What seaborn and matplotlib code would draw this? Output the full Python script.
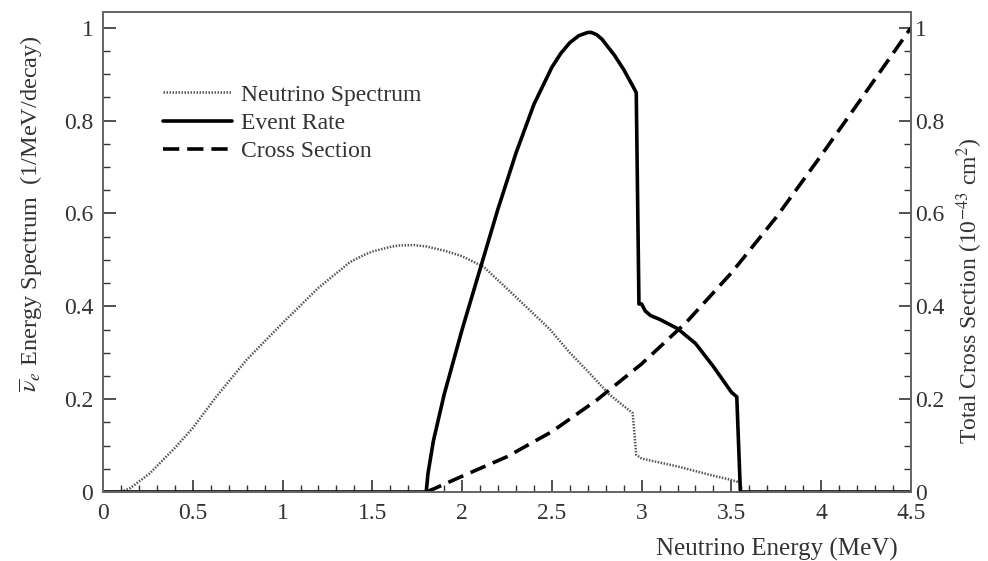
import numpy as np
import pandas as pd
import matplotlib
matplotlib.use("Agg")
import matplotlib.pyplot as plt
from matplotlib.ticker import MultipleLocator, FuncFormatter
import seaborn as sns

# Reactor antineutrino spectrum (1/MeV/decay)
spec_E = [0.0, 0.10, 0.15, 0.26, 0.40, 0.50, 0.63, 0.80, 1.00, 1.20, 1.375, 1.45, 1.50,
          1.60, 1.65, 1.73, 1.80, 1.90, 2.00, 2.12, 2.30, 2.49, 2.60, 2.70, 2.82, 2.95,
          2.97, 3.00, 3.20, 3.40, 3.50, 3.55, 3.56]
spec_val = [0.0, 0.0, 0.008, 0.04, 0.095, 0.138, 0.205, 0.285, 0.364, 0.44, 0.495, 0.51,
            0.518, 0.528, 0.531, 0.532, 0.529, 0.52, 0.508, 0.485, 0.42, 0.35, 0.30, 0.26,
            0.21, 0.17, 0.08, 0.072, 0.055, 0.035, 0.026, 0.02, 0.0]

# Detected event rate (arb. normalised)
rate_E = [0.0, 1.80, 1.81, 1.84, 1.90, 2.00, 2.10, 2.20, 2.30, 2.40, 2.50, 2.55, 2.60,
          2.65, 2.70, 2.72, 2.75, 2.78, 2.80, 2.85, 2.90, 2.95, 2.97, 2.985, 3.00, 3.02,
          3.05, 3.10, 3.20, 3.30, 3.40, 3.50, 3.53, 3.55, 4.50]
rate_val = [0.0, 0.0, 0.04, 0.11, 0.21, 0.35, 0.48, 0.61, 0.73, 0.835, 0.915, 0.945, 0.968,
            0.983, 0.99, 0.99, 0.985, 0.975, 0.965, 0.94, 0.91, 0.875, 0.86, 0.405, 0.405,
            0.39, 0.38, 0.372, 0.352, 0.32, 0.27, 0.215, 0.205, 0.0, 0.0]

# Inverse beta decay total cross section (1e-43 cm^2)
xs_E = [1.80, 1.85, 2.00, 2.25, 2.50, 2.75, 3.00, 3.25, 3.50, 3.75, 4.00, 4.25, 4.50]
xs_val = [0.0, 0.008, 0.034, 0.076, 0.130, 0.198, 0.276, 0.366, 0.472, 0.592, 0.725, 0.862, 1.0]

x_ticks = [0, 0.5, 1, 1.5, 2, 2.5, 3, 3.5, 4, 4.5]
y_ticks = [0, 0.2, 0.4, 0.6, 0.8, 1.0]

sns.set_style("ticks")
plt.rcParams["font.family"] = ["Liberation Serif", "DejaVu Serif"]
plt.rcParams["mathtext.fontset"] = "stix"
plt.rcParams["xtick.direction"] = "in"
plt.rcParams["ytick.direction"] = "in"

TXT = "#333333"

fig = plt.figure(figsize=(9.88, 5.61), dpi=100)
ax = fig.add_axes([0.1043, 0.123, 0.8177, 0.8556])
ax2 = ax.twinx()

spec_df = pd.DataFrame({"E": spec_E, "v": spec_val})
rate_df = pd.DataFrame({"E": rate_E, "v": rate_val})
xs_df = pd.DataFrame({"E": xs_E, "v": xs_val})

sns.lineplot(data=spec_df, x="E", y="v", ax=ax, color="#555555", lw=1.8,
             linestyle=(0, (0.6, 0.6)), label="Neutrino Spectrum", sort=False)
sns.lineplot(data=rate_df, x="E", y="v", ax=ax, color="black", lw=2.6,
             label="Event Rate", sort=False)
# cross-section is on the right-hand axis, legend entry added to the left one
sns.lineplot(data=xs_df, x="E", y="v", ax=ax2, color="black", lw=2.6,
             linestyle=(0, (4.5, 2.2)), sort=False, legend=False)
ax.plot([], [], color="black", lw=2.6, linestyle=(0, (4.5, 2.2)), label="Cross Section")

for a in (ax, ax2):
    a.set_xlim(0, 4.5)
    a.set_ylim(0, 1.034)
    a.set_yticks(y_ticks)
    a.yaxis.set_minor_locator(MultipleLocator(0.05))
    a.yaxis.set_major_formatter(FuncFormatter(lambda v, p: f"{v:g}"))
    for s in a.spines.values():
        s.set_color("#666666")
        s.set_linewidth(1.3)
ax.set_xticks(x_ticks)
ax.xaxis.set_minor_locator(MultipleLocator(0.1))
ax.xaxis.set_major_formatter(FuncFormatter(lambda v, p: f"{v:g}"))

ax.tick_params(axis="both", which="major", length=9, width=1.2, color=TXT,
               labelsize=17, labelcolor=TXT)
ax.tick_params(axis="x", which="major", pad=8)
ax.tick_params(axis="y", which="major", pad=7)
ax.tick_params(axis="both", which="minor", length=5, width=1.0, color=TXT)
ax.tick_params(axis="y", right=False)
ax.tick_params(axis="x", top=False, which="both")
ax2.tick_params(axis="y", which="major", length=9, width=1.2, color=TXT,
                labelsize=17, labelcolor=TXT, pad=3)
ax2.tick_params(axis="y", which="minor", length=5, width=1.0, color=TXT)

ax.set_xlabel("Neutrino Energy (MeV)", fontsize=18, color=TXT)
ax.xaxis.set_label_coords(0.834, -0.096)
ax.set_ylabel(r"$\overline{\nu}_e$ Energy Spectrum  (1/MeV/decay)", fontsize=17.5,
              color=TXT)
ax.yaxis.set_label_coords(-0.072, 0.58)
ax2.set_ylabel(r"Total Cross Section (10$^{-43}$ cm$^2$)", fontsize=17, color=TXT)
ax2.yaxis.set_label_coords(1.054, 0.42)

leg = ax.legend(loc="upper left", bbox_to_anchor=(0.074, 0.85), frameon=False,
                fontsize=17, handlelength=2.95, handletextpad=0.38, labelspacing=0.29,
                borderaxespad=0, borderpad=0)
for t in leg.get_texts():
    t.set_color(TXT)

fig.savefig("out.png", dpi=100)
